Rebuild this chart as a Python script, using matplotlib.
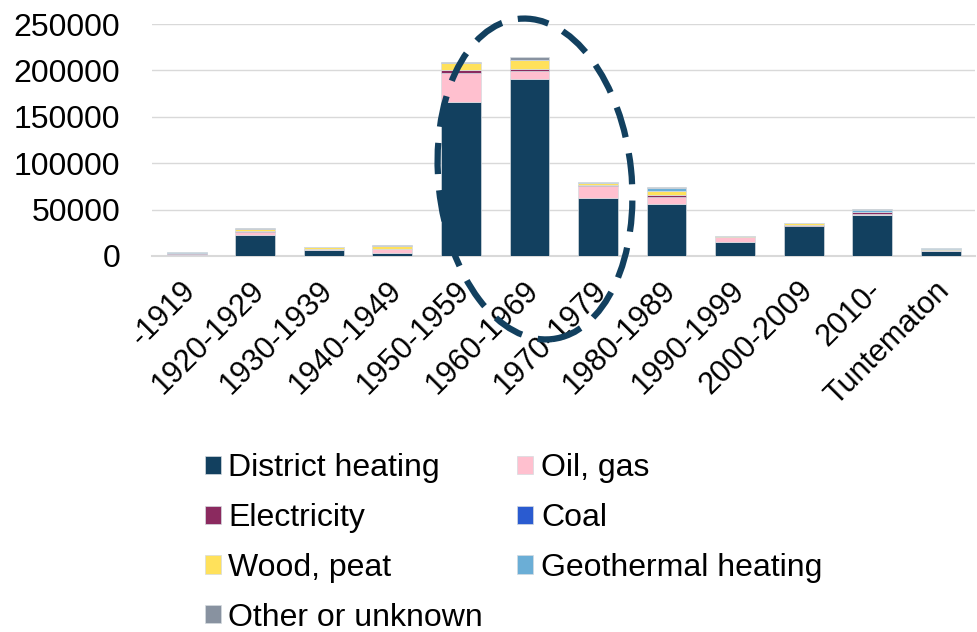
import matplotlib
matplotlib.use("Agg")
import matplotlib.pyplot as plt
import matplotlib.transforms as mtransforms
from matplotlib.patches import Ellipse
import numpy as np

plt.rcParams['font.family'] = ['Liberation Sans', 'DejaVu Sans']

# Buildings by construction decade and main heating source
decades = ['-1919', '1920-1929', '1930-1939', '1940-1949', '1950-1959', '1960-1969',
           '1970-1979', '1980-1989', '1990-1999', '2000-2009', '2010-', 'Tuntematon']

district = [1500, 22600, 6800, 3200, 166300, 190500, 62900, 56400, 15500, 32300, 44200, 5700]
oil_gas = [800, 3300, 500, 3900, 30500, 9300, 12600, 7500, 5000, 500, 800, 800]
electricity = [500, 800, 200, 300, 3500, 1500, 500, 1800, 300, 300, 2000, 300]
coal = [100, 100, 0, 0, 200, 100, 100, 100, 0, 0, 100, 0]
wood_peat = [700, 2500, 2000, 3600, 7500, 9300, 3000, 4300, 500, 2000, 800, 1200]
geothermal = [300, 200, 100, 100, 300, 500, 300, 2900, 200, 300, 1500, 200]
other = [500, 300, 200, 200, 700, 3000, 500, 1000, 200, 200, 1000, 600]

series = [
    ('District heating', district, '#12405f'),
    ('Oil, gas', oil_gas, '#ffc0cf'),
    ('Electricity', electricity, '#8b2a5f'),
    ('Coal', coal, '#2a5bd0'),
    ('Wood, peat', wood_peat, '#ffe15b'),
    ('Geothermal heating', geothermal, '#6baed6'),
    ('Other or unknown', other, '#8892a0'),
]

FS = 23

fig = plt.figure(figsize=(9.77, 6.32), dpi=100)
ax = fig.add_axes([0.156, 0.595, 0.842, 0.367])

x = np.arange(len(decades))
bottom = np.zeros(len(decades))
handles = {}
for name, vals, col in series:
    vals = np.array(vals, dtype=float)
    b = ax.bar(x, vals, 0.58, bottom=bottom, color=col, edgecolor='#d5dbe0',
               linewidth=0.5, zorder=3, label=name)
    handles[name] = b
    bottom += vals

ax.set_ylim(0, 250000)
ax.set_yticks(np.arange(0, 250001, 50000))
ax.set_xlim(-0.5, len(decades) - 0.5)
ax.set_xticks(x)
ax.set_xticklabels(decades, rotation=45, ha='right', rotation_mode='anchor', fontsize=22)
ax.tick_params(axis='y', length=0, pad=23, labelsize=FS)
ax.tick_params(axis='x', length=0, pad=14)
# nudge rotated labels a little to the left
shift = mtransforms.ScaledTranslation(-6 / 100, 0, fig.dpi_scale_trans)
for lbl in ax.get_xticklabels():
    lbl.set_transform(lbl.get_transform() + shift)
ax.grid(axis='y', color='#d9d9d9', linewidth=1, zorder=0)
for s in ['top', 'right', 'left']:
    ax.spines[s].set_visible(False)
ax.spines['bottom'].set_color('#d9d9d9')
ax.spines['bottom'].set_linewidth(1.5)

# dashed highlight around the 1950s-1970s peak
ring = Ellipse((5.35, 6.32 - 1.79), 1.93, 3.22, angle=6, transform=fig.dpi_scale_trans,
               fill=False, edgecolor='#12405f', linewidth=4.5, linestyle=(0, (5, 2.6)),
               clip_on=False, zorder=5)
fig.patches.append(ring)

order = ['District heating', 'Electricity', 'Wood, peat', 'Other or unknown',
         'Oil, gas', 'Coal', 'Geothermal heating']
fig.legend([handles[n] for n in order], order, ncol=2, frameon=False, fontsize=FS,
           loc='upper left', bbox_to_anchor=(0.193, 0.308), borderpad=0,
           handlelength=0.5, handleheight=0.5, handletextpad=0.25,
           labelspacing=0.62, columnspacing=1.06)

fig.savefig('out.png', dpi=100)
